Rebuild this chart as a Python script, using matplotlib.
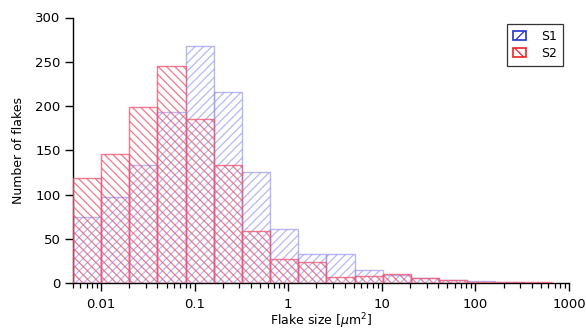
import numpy as np
import matplotlib
matplotlib.use("Agg")
import matplotlib.pyplot as plt
from matplotlib.patches import Patch
from matplotlib.ticker import LogLocator, FixedLocator, NullFormatter

plt.rcParams['font.family'] = ['DejaVu Sans']
plt.rcParams['hatch.linewidth'] = 0.9

# bin edges (factor-of-2 log bins), um^2
bin_edges = [0.005, 0.01, 0.02, 0.04, 0.08, 0.16, 0.32, 0.64, 1.28, 2.56,
             5.12, 10.24, 20.48, 40.96, 81.92, 163.84, 327.68, 655.36]
s1_counts = [75, 97, 133, 193, 268, 216, 125, 61, 33, 33, 15, 9, 6, 3, 2, 1, 0]
s2_counts = [119, 146, 199, 245, 185, 133, 59, 27, 24, 7, 8, 10, 6, 3, 1, 1, 1]
series_names = ["S1", "S2"]
x_tick_values = [0.01, 0.1, 1, 10, 100, 1000]
x_tick_labels = ["0.01", "0.1", "1", "10", "100", "1000"]
y_tick_values = [0, 50, 100, 150, 200, 250, 300]

edges = np.array(bin_edges)
lefts = edges[:-1]
widths = np.diff(edges)

fig = plt.figure(figsize=(5.86, 3.31), dpi=100)
ax = fig.add_axes([73/586, 48/331, (569-73)/586, (283-17.5)/331])

blue_col = (0.60, 0.60, 0.94, 0.70)
red_col = (0.93, 0.35, 0.45, 0.80)

ax.bar(lefts, s1_counts, width=widths, align='edge', facecolor='none',
       edgecolor=blue_col, hatch='////', linewidth=1.0, zorder=2)
ax.bar(lefts, s2_counts, width=widths, align='edge', facecolor='none',
       edgecolor=red_col, hatch='\\\\\\\\', linewidth=1.0, zorder=3)

ax.set_xscale('log')
ax.set_xlim(0.005, 1000)
ax.set_ylim(0, 300)

ax.xaxis.set_major_locator(FixedLocator(x_tick_values))
ax.set_xticklabels(x_tick_labels)
ax.xaxis.set_minor_locator(LogLocator(base=10, subs=np.arange(2, 10), numticks=20))
ax.xaxis.set_minor_formatter(NullFormatter())
ax.set_yticks(y_tick_values)

for s in ['top', 'right']:
    ax.spines[s].set_visible(False)
for s in ['left', 'bottom']:
    ax.spines[s].set_linewidth(1.0)

ax.tick_params(axis='both', which='major', direction='out', length=6, width=1.0,
               labelsize=9.5, pad=3)
ax.tick_params(axis='x', which='minor', direction='out', length=3.5, width=0.9)
ax.tick_params(axis='x', which='major', pad=5)

ax.set_xlabel(r'Flake size [$\mu$m$^2$]', fontsize=9, labelpad=0)
ax.set_ylabel('Number of flakes', fontsize=9, labelpad=7)

handles = [Patch(facecolor='white', edgecolor='#2233cc', hatch='///', linewidth=1.2),
           Patch(facecolor='white', edgecolor='#ee2222', hatch='\\\\\\', linewidth=1.2)]
leg = ax.legend(handles, series_names, loc='upper right', bbox_to_anchor=(1.0, 1.0),
                fontsize=9, frameon=True, fancybox=False, edgecolor='black',
                handlelength=1.0, handleheight=0.8, handletextpad=1.2,
                borderpad=0.5, labelspacing=0.3)
leg.get_frame().set_linewidth(0.9)

fig.savefig('out.png', dpi=100)
